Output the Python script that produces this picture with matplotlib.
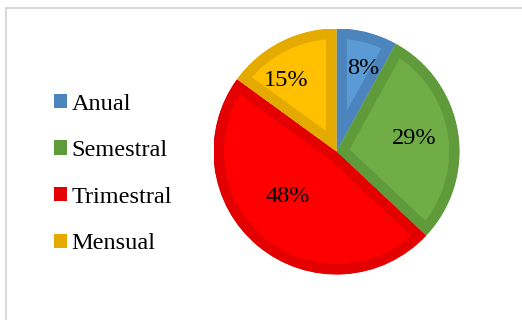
import numpy as np
import matplotlib
matplotlib.use("Agg")
import matplotlib.pyplot as plt
from matplotlib.patches import Rectangle, Patch

# Frequency categories and their share (%)
categories = ["Anual", "Semestral", "Trimestral", "Mensual"]
shares = [8, 29, 48, 15]

fill_colors = ["#5B9BD5", "#70AD47", "#FF0000", "#FFC000"]
edge_colors = ["#4C85BD", "#5F9B3B", "#E20000", "#E5AA00"]
# percentage label placement: radius fraction and angular shift (deg)
label_radius = [0.71, 0.644, 0.54, 0.706]
label_shift = [-3.6, 0.8, -7.8, 8.2]

plt.rcParams["font.family"] = ["Liberation Serif", "DejaVu Serif"]
FS = 17.5

fig = plt.figure(figsize=(5.22, 3.2), dpi=100)
W, H = 522, 320

# light gray chart frame (left and top edges visible)
fig.patches.append(Rectangle((5.5 / W, -0.1), 1.2, 1 - 7.5 / H + 0.1,
                             transform=fig.transFigure, fill=False,
                             edgecolor="#D9D9D9", linewidth=1.5))

cx, cy, r = 336.5, 151.5, 123
ax = fig.add_axes([(cx - r) / W, (H - cy - r) / H, 2 * r / W, 2 * r / H])
wedges, texts, autotexts = ax.pie(
    shares, colors=fill_colors, startangle=90, counterclock=False,
    autopct=lambda p: f"{p:.0f}%", pctdistance=0.65,
    textprops=dict(fontsize=FS, color="black"),
    wedgeprops=dict(linewidth=15))
for w, ec in zip(wedges, edge_colors):
    w.set_edgecolor(ec)
    w.set_clip_on(True)
    w.set_clip_path(w)  # keep the border inside each slice

for w, t, rad, sh in zip(wedges, autotexts, label_radius, label_shift):
    ang = np.deg2rad((w.theta1 + w.theta2) / 2 + sh)
    t.set_position((rad * np.cos(ang), rad * np.sin(ang)))
    t.set_ha("center")
    t.set_va("center")

ax.set_xlim(-1, 1)
ax.set_ylim(-1, 1)
ax.set_aspect("equal")
ax.axis("off")

handles = [Patch(facecolor=c, edgecolor="none") for c in edge_colors]
fig.legend(handles, categories, loc="center left",
           bbox_to_anchor=(54 / W, 1 - 174 / H), frameon=False,
           fontsize=FS, handlelength=0.53, handleheight=0.53,
           handletextpad=0.2, labelspacing=1.05, borderpad=0,
           borderaxespad=0)

fig.savefig("out.png", dpi=100)
